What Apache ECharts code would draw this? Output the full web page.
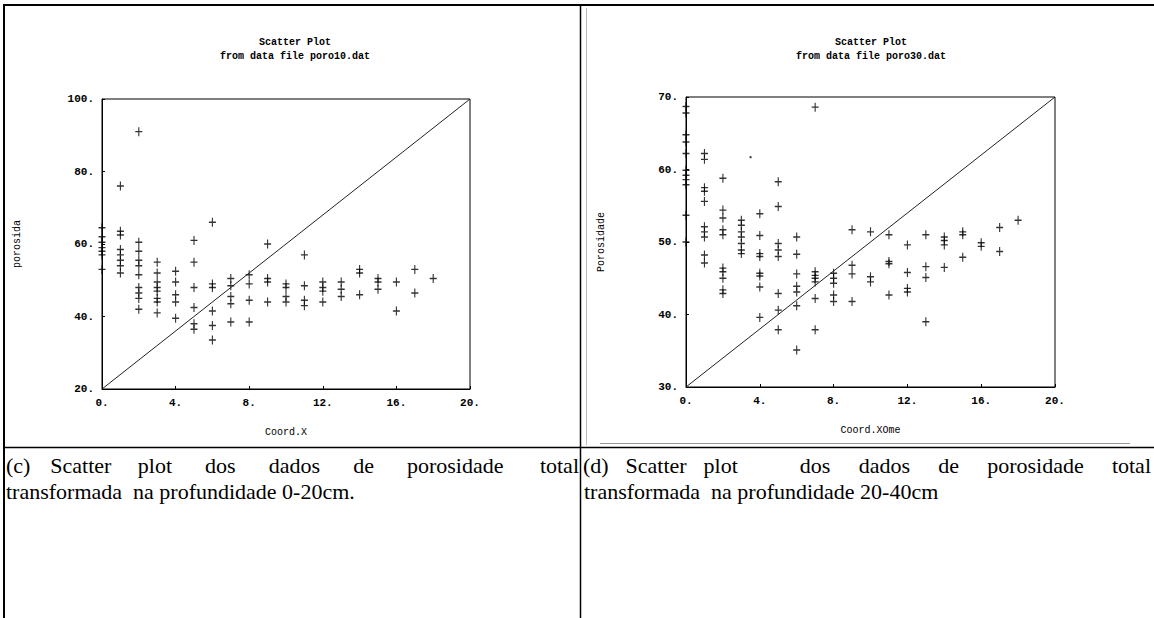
<!DOCTYPE html>
<html>
<head>
<meta charset="utf-8">
<script src="https://cdn.jsdelivr.net/npm/echarts@6/dist/echarts.min.js"></script>
<style>
html,body{margin:0;padding:0;background:#fff;}
#main{width:1154px;height:618px;}
</style>
</head>
<body>
<div id="main"></div>
<script>
// x coordinates of the sample columns
var coordX = [0,1,2,3,4,5,6,7,8,9,10,11,12,13,14,15,16,17,18];

// poro10.dat - porosidade 0-20cm, values per column of coordX
var poro10 = [
	[64.5, 62, 60.5, 59, 58, 57, 53],
	[76, 63.5, 62.5, 58.5, 57, 55.5, 54, 52],
	[91, 60.5, 58, 55.5, 54, 51.5, 48, 46.5, 45, 42],
	[55, 52, 49.5, 48, 47, 45, 44, 41],
	[52.5, 49.5, 46, 44, 39.5],
	[61, 55, 48, 42.5, 38, 36.5],
	[66, 49, 48, 41.5, 37.5, 33.5],
	[50.5, 48.5, 45.5, 43.5, 38.5],
	[51.5, 49, 44.5, 38.5],
	[60, 50.5, 49.5, 44],
	[49, 48, 45.5, 44],
	[57, 48.5, 44.5, 43],
	[49.5, 48, 47, 44],
	[49.5, 47.5, 45.5],
	[53, 52, 46],
	[50.5, 49.5, 47.5],
	[49.5, 41.5],
	[53, 46.5],
	[50.5]
];

// poro30.dat - porosidade 20-40cm
var poro30 = [
	[68.7, 67.8, 64.8, 63.8, 62.2, 59.9, 59.2, 58.6, 57.9, 53.7, 50],
	[62.2, 61.4, 57.5, 57, 55.6, 52.1, 51.4, 50.7, 48.2, 47.1],
	[58.8, 54.4, 53.3, 51.7, 51, 46.4, 45.9, 45, 43.4, 42.9],
	[53, 52.3, 51.4, 50.7, 49.8, 48.9, 48.4],
	[53.9, 50.9, 48.4, 48, 45.7, 45.3, 43.8, 39.6],
	[58.3, 54.9, 49.8, 48.9, 48, 42.9, 40.6, 37.9],
	[50.7, 48.3, 45.6, 43.9, 43.1, 41.2, 35.1],
	[68.6, 45.9, 45.4, 45, 44.5, 42.2, 37.9],
	[45.7, 45, 44.3, 42.7, 41.8],
	[51.7, 46.8, 45.6, 41.8],
	[51.4, 45.2, 44.5],
	[51, 47.3, 47, 42.7],
	[49.6, 45.8, 43.6, 43.1],
	[51, 46.6, 45.1, 39],
	[50.7, 50.2, 49.6, 46.5],
	[51.4, 51, 47.9],
	[49.9, 49.4],
	[52, 48.7],
	[53]
];
var poro30Dot = [[3.5, 61.7]];

// diagonal reference lines (corner to corner)
var diagA = [[0, 20], [20, 100]];
var diagB = [[0, 30], [20, 70]];

var titlesA = ['Scatter Plot', 'from data file poro10.dat'];
var titlesB = ['Scatter Plot', 'from data file poro30.dat'];

var capA1 = ['(c)', 'Scatter', 'plot', 'dos', 'dados', 'de', 'porosidade', 'total'];
var capA2 = 'transformada  na profundidade 0-20cm.';
var capB1 = ['(d)', 'Scatter', 'plot', 'dos', 'dados', 'de', 'porosidade', 'total'];
var capB2 = 'transformada  na profundidade 20-40cm';

function toPoints(cols) {
	var pts = [];
	for (var i = 0; i < cols.length; i++) {
		for (var j = 0; j < cols[i].length; j++) {
			pts.push([coordX[i], cols[i][j]]);
		}
	}
	return pts;
}

var MONO = '"Liberation Mono", "DejaVu Sans Mono", monospace';
var SERIF = '"Liberation Serif", "DejaVu Serif", serif';
var CAP_FONT = '22px ' + SERIF;
var plus = 'path://M4.2,0H5.8V4.2H10V5.8H5.8V10H4.2V5.8H0V4.2H4.2Z';

// word placement for the justified first caption line
var ctx = document.createElement('canvas').getContext('2d');
ctx.font = CAP_FONT;
function justify(words, x0, x1, y, gapWeights) {
	var widths = words.map(function(w) { return ctx.measureText(w).width; });
	var total = widths.reduce(function(a, b) { return a + b; }, 0);
	var wsum = 0;
	for (var k = 0; k < words.length - 1; k++) wsum += gapWeights[k];
	var unit = (x1 - x0 - total) / wsum;
	var out = [], x = x0;
	for (var i = 0; i < words.length; i++) {
		out.push({ type: 'text', x: x, y: y, style: { text: words[i], font: CAP_FONT, fill: '#000', textVerticalAlign: 'middle' } });
		x += widths[i] + (i < words.length - 1 ? unit * gapWeights[i] : 0);
	}
	return out;
}

function line(x1, y1, x2, y2, w, c) {
	return { type: 'line', shape: { x1: x1, y1: y1, x2: x2, y2: y2 }, style: { stroke: c || '#000', lineWidth: w } };
}

var graphics = [
	line(3, 5, 1154, 5, 2),
	line(4, 5, 4, 618, 2),
	line(580.5, 5, 580.5, 618, 1.5),
	line(4, 447.5, 1154, 447.5, 1.5),
	line(600, 443.5, 1130, 443.5, 1, '#999'),
	line(586.5, 8, 586.5, 445, 1, '#bbb')
];
graphics = graphics.concat(justify(capA1, 6, 579, 465, [0.6,0.8,1,1,1,1,1.1]));
graphics = graphics.concat(justify(capB1, 583, 1151, 465, [0.6,0.6,2.2,1,1,1,1]));
graphics.push({ type: 'text', x: 6, y: 491, style: { text: capA2, font: CAP_FONT, fill: '#000', textVerticalAlign: 'middle' } });
graphics.push({ type: 'text', x: 584, y: 491, style: { text: capB2, font: CAP_FONT, fill: '#000', textVerticalAlign: 'middle' } });

function xAxisOf(idx, name) {
	return {
		gridIndex: idx, type: 'value', min: 0, max: 20, interval: 4,
		name: name, nameLocation: 'middle', nameGap: 38,
		nameTextStyle: { fontFamily: MONO, fontSize: 10, color: '#000' },
		axisLine: { show: true, onZero: false, lineStyle: { color: '#000', width: 1 } },
		axisTick: { show: true, inside: true, length: 3, lineStyle: { color: '#000' } },
		splitLine: { show: false },
		axisLabel: { formatter: function(v) { return v + '.'; }, margin: 8, fontFamily: MONO, fontWeight: 'bold', fontSize: 11, color: '#000' }
	};
}
function yAxisOf(idx, name, min, max, step, gap) {
	return {
		gridIndex: idx, type: 'value', min: min, max: max, interval: step,
		name: name, nameLocation: 'middle', nameGap: gap,
		nameTextStyle: { fontFamily: MONO, fontSize: 10, color: '#000' },
		axisLine: { show: true, onZero: false, lineStyle: { color: '#000', width: 1 } },
		axisTick: { show: true, inside: true, length: 3, lineStyle: { color: '#000' } },
		splitLine: { show: false },
		axisLabel: { formatter: function(v) { return v + '.'; }, margin: 8, fontFamily: MONO, fontWeight: 'bold', fontSize: 11, color: '#000' }
	};
}
function titleOf(lines, cx) {
	return {
		text: lines[0], subtext: lines[1], left: cx, top: 32, textAlign: 'center', itemGap: 4,
		textStyle: { fontFamily: MONO, fontSize: 10, fontWeight: 'bold', color: '#000' },
		subtextStyle: { fontFamily: MONO, fontSize: 10, fontWeight: 'bold', color: '#000' }
	};
}

var option = {
	backgroundColor: '#fff',
	animation: false,
	title: [titleOf(titlesA, 290), titleOf(titlesB, 866)],
	grid: [
		{ left: 102, top: 99, width: 368, height: 290, show: true, borderColor: '#000', borderWidth: 1, backgroundColor: 'transparent' },
		{ left: 686, top: 97, width: 369, height: 290, show: true, borderColor: '#000', borderWidth: 1, backgroundColor: 'transparent' }
	],
	xAxis: [xAxisOf(0, 'Coord.X'), xAxisOf(1, 'Coord.XOme')],
	yAxis: [yAxisOf(0, 'porosida', 20, 100, 20, 80), yAxisOf(1, 'Porosidade', 30, 70, 10, 80)],
	series: [
		{ type: 'line', xAxisIndex: 0, yAxisIndex: 0, data: diagA, symbol: 'none', silent: true, lineStyle: { color: '#222', width: 1 } },
		{ type: 'line', xAxisIndex: 1, yAxisIndex: 1, data: diagB, symbol: 'none', silent: true, lineStyle: { color: '#222', width: 1 } },
		{ type: 'scatter', xAxisIndex: 0, yAxisIndex: 0, data: toPoints(poro10), symbol: plus, symbolSize: [7, 9], itemStyle: { color: '#000' } },
		{ type: 'scatter', xAxisIndex: 1, yAxisIndex: 1, data: toPoints(poro30), symbol: plus, symbolSize: [7, 9], itemStyle: { color: '#000' } },
		{ type: 'scatter', xAxisIndex: 1, yAxisIndex: 1, data: poro30Dot, symbol: 'rect', symbolSize: 2, itemStyle: { color: '#000' } }
	],
	graphic: graphics
};

var myChart = echarts.init(document.getElementById('main'), null, { renderer: 'svg' });
myChart.setOption(option);
</script>
</body>
</html>
